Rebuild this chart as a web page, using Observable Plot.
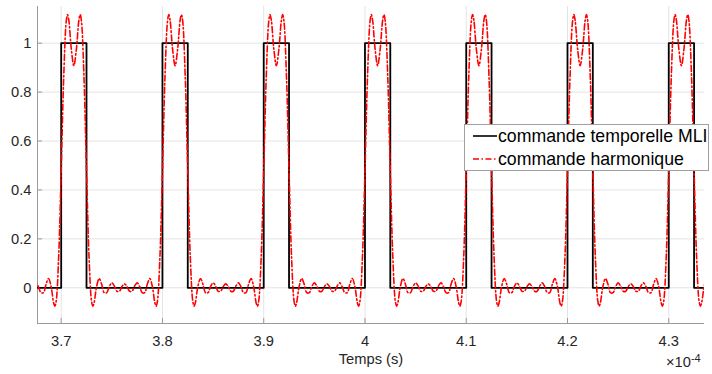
<!DOCTYPE html>
<html>
<head>
<meta charset="utf-8">
<script src="https://cdn.jsdelivr.net/npm/d3@7"></script>
<script src="https://cdn.jsdelivr.net/npm/@observablehq/plot@0.6"></script>
<style>
  html, body { margin: 0; padding: 0; background: #fff; }
  #chart { width: 712px; height: 374px; }
</style>
</head>
<body>
<div id="chart"></div>
<script>
// ---- data (time in units of 1e-4 s) ----
const xTicks = [3.7, 3.8, 3.9, 4.0, 4.1, 4.2, 4.3];
const xTickLabels = ["3.7", "3.8", "3.9", "4", "4.1", "4.2", "4.3"];
const yTicks = [0, 0.2, 0.4, 0.6, 0.8, 1];
const yTickLabels = ["0", "0.2", "0.4", "0.6", "0.8", "1"];
const timeRange = [3.6766, 4.3353];
const yRange = [-0.146, 1.15];

// PWM pulses (rising edges) and pulse width
const pulseStarts = [3.7, 3.8, 3.9, 4.0, 4.1, 4.2, 4.3];
const pulseWidth = 0.025;
const pwmLow = 0;
const pwmHigh = 1;

// harmonic command read over one period, offsets from pulse centre
const shapeOffsets = [-0.05, -0.0475, -0.045, -0.0425, -0.04, -0.0375, -0.035, -0.0325, -0.03, -0.0275,
  -0.025, -0.0225, -0.02, -0.01875, -0.0175, -0.015, -0.0125, -0.01, -0.0075, -0.00625, -0.005, -0.0025,
  0, 0.0025, 0.005, 0.00625, 0.0075, 0.01, 0.0125, 0.015, 0.0175, 0.01875, 0.02, 0.0225, 0.025, 0.0275,
  0.03, 0.0325, 0.035, 0.0375, 0.04, 0.0425, 0.045, 0.0475];
const shapeValues = [0.016, 0.005, -0.014, -0.014, 0.007, 0.020, 0.005, -0.020, -0.020, 0.014,
  0.038, 0.006, -0.061, -0.075, -0.056, 0.126, 0.480, 0.862, 1.090, 1.117, 1.095, 0.976,
  0.908, 0.976, 1.095, 1.117, 1.090, 0.862, 0.480, 0.126, -0.056, -0.075, -0.061, 0.006, 0.038, 0.014,
  -0.020, -0.020, 0.005, 0.020, 0.007, -0.014, -0.014, 0.005];

const seriesNames = ["commande temporelle MLI", "commande harmonique"];
const xLabel = "Temps (s)";

// ---- build tables ----
const pwm = [{t: timeRange[0], v: pwmLow}];
for (const s of pulseStarts) {
  pwm.push({t: s, v: pwmLow}, {t: s, v: pwmHigh}, {t: s + pulseWidth, v: pwmHigh}, {t: s + pulseWidth, v: pwmLow});
}
pwm.push({t: timeRange[1], v: pwmLow});

const harm = [];
for (const s of pulseStarts) {
  const c = s + pulseWidth / 2;
  shapeOffsets.forEach((o, i) => harm.push({t: c + o, v: shapeValues[i]}));
}
harm.push({t: pulseStarts[pulseStarts.length - 1] + pulseWidth / 2 + 0.05, v: shapeValues[0]});

const font = "'Liberation Sans', Arial, Helvetica, sans-serif";
const axisGray = "#9a9a9a";
const textCol = "#262626";

const chart = Plot.plot({
  width: 712,
  height: 374,
  marginLeft: 37,
  marginRight: 8,
  marginTop: 6,
  marginBottom: 51,
  style: {fontFamily: font, fontSize: "14.7px", color: textCol, background: "#fff"},
  x: {domain: timeRange},
  y: {domain: yRange},
  marks: [
    Plot.gridX(xTicks, {stroke: "#e4e4e4", strokeOpacity: 1}),
    Plot.gridY(yTicks, {stroke: "#e4e4e4", strokeOpacity: 1}),
    Plot.ruleX([timeRange[0]], {stroke: axisGray}),
    Plot.ruleY([yRange[0]], {stroke: axisGray}),
    Plot.axisX(xTicks, {tickSize: -5, tickPadding: 17, stroke: axisGray, fill: textCol, fontSize: 14.7,
      tickFormat: d => xTickLabels[xTicks.indexOf(d)], label: null}),
    Plot.axisY(yTicks, {tickSize: -5, tickPadding: 11, stroke: axisGray, fill: textCol, fontSize: 14.7,
      tickFormat: d => yTickLabels[yTicks.indexOf(d)], label: null}),
    Plot.line(pwm, {x: "t", y: "v", stroke: "#000", strokeWidth: 1.8, clip: true}),
    Plot.line(harm, {x: "t", y: "v", stroke: "#ff0000", strokeWidth: 1.6, curve: "catmull-rom",
      strokeDasharray: "6,2.5,1.5,2.5", clip: true}),
    Plot.text([xLabel], {frameAnchor: "bottom", lineAnchor: "middle", dy: 36, fontSize: 14.7, fill: textCol})
  ]
});
document.getElementById("chart").appendChild(chart);

// exponent label and legend
const svg = d3.select(chart);
const exp = svg.append("text").attr("x", 666).attr("y", 367).attr("text-anchor", "start")
  .attr("font-family", font).attr("font-size", 14.7).attr("fill", textCol);
exp.append("tspan").text("×10");
exp.append("tspan").attr("dy", -5).attr("font-size", 11).text("-4");

const lg = svg.append("g").attr("font-family", font).attr("font-size", 17.7).attr("fill", "#000")
  .attr("text-anchor", "start");
lg.append("rect").attr("x", 464.5).attr("y", 124.5).attr("width", 244).attr("height", 46)
  .attr("fill", "#fff").attr("stroke", "#a0a0a0").attr("stroke-width", 1);
const styles = [{stroke: "#000", dash: null, w: 1.6}, {stroke: "#ff0000", dash: "6,2.5,1.5,2.5", w: 1.5}];
seriesNames.forEach((name, i) => {
  const cy = 136 + i * 23;
  lg.append("line").attr("x1", 473).attr("x2", 497).attr("y1", cy).attr("y2", cy)
    .attr("stroke", styles[i].stroke).attr("stroke-width", styles[i].w)
    .attr("stroke-dasharray", styles[i].dash);
  lg.append("text").attr("x", 498).attr("y", cy).attr("dy", "0.36em").attr("text-anchor", "start").text(name);
});
</script>
</body>
</html>
